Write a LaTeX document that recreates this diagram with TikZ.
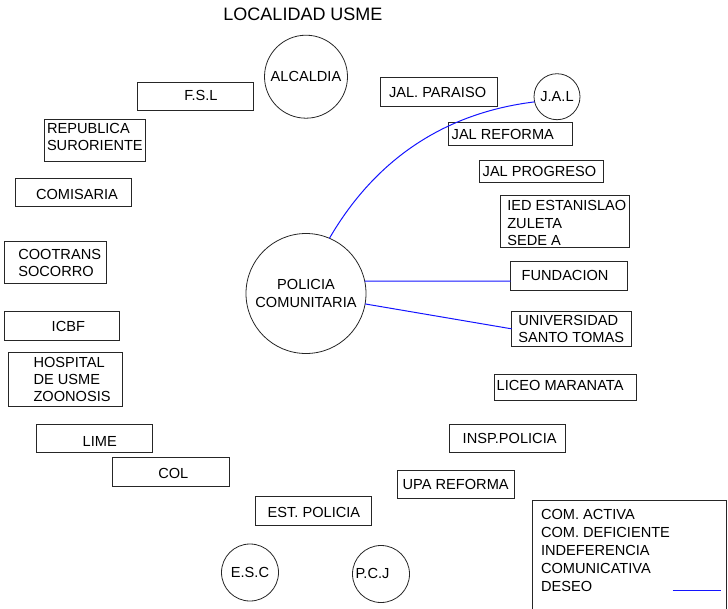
\documentclass[tikz,border=0pt]{standalone}
\usepackage{fontspec}
\setmainfont{Liberation Sans}
\newcommand\entfont{\fontsize{14.6}{17.2}\selectfont}
\newcommand\keyfont{\fontsize{14.6}{17.8}\selectfont}
% \entbox{name}{x1}{y1}{x2}{y2}: empty framed box spanning the given corners
\newcommand\entbox[5]{%
  \node[frame, minimum width={#4-#2}, minimum height={#5-#3}] (#1)
    at ({(#2+#4)/2},{(#3+#5)/2}) {};}
\definecolor{linkblue}{RGB}{20,20,255}
\begin{document}
\begin{tikzpicture}[x=1pt,y=-1pt,
  frame/.style={draw=black!85, line width=0.8pt, rectangle, inner sep=0pt, outer sep=0pt},
  ring/.style={draw=black!85, line width=0.8pt, circle, inner sep=0pt, outer sep=0pt,
    align=center, font=\entfont},
  txt/.style={inner sep=0pt, outer sep=0pt, anchor=north west, align=left, font=\entfont},
  link/.style={draw=linkblue, line width=1pt}]
\useasboundingbox (0,0) rectangle (728,608);

% heading
\node[font=\fontsize{18}{20}\selectfont, anchor=base, inner sep=0pt] (title) at (303,20.7) {LOCALIDAD USME};

% circular actors
\node[ring, minimum size=83] (alc) at (306,76.7) {ALCALDIA};
\node[ring, minimum size=46] (jal) at (557,96.7) {J.A.L};
\node[ring, minimum size=120] (pc) at (306,293.5) {POLICIA\\COMUNITARIA};
\node[ring, minimum size=57] (esc) at (250,572.5) {E.S.C};
\node[ring, minimum size=57] (pcj) at (381,574) {};
\node[txt, anchor=center] (pcj-t) at (372.5,573.5) {P.C.J};

% left-hand institutions
\entbox{fsl}{137}{82}{253}{110}
\node[txt] (fsl-t) at (184.3,90.7) {F.S.L};
\entbox{rep}{44.3}{119.3}{145.7}{161.7}
\node[txt] (rep-t) at (47,123.3) {REPUBLICA\\SURORIENTE};
\entbox{com}{15}{178.3}{131.7}{206.7}
\node[txt] (com-t) at (36,189.3) {COMISARIA};
\entbox{coo}{4.7}{241.7}{106.7}{283.3}
\node[txt] (coo-t) at (18.3,249.3) {COOTRANS\\SOCORRO};
\entbox{icbf}{4}{311.7}{119}{340.7}
\node[txt] (icbf-t) at (51.7,321.7) {ICBF};
\entbox{hosp}{8.3}{352.7}{122.7}{406}
\node[txt] (hosp-t) at (33.5,357.3) {HOSPITAL\\DE USME\\ZOONOSIS};
\entbox{lime}{36}{424}{152.7}{452.3}
\node[txt] (lime-t) at (82.7,436.4) {LIME};
\entbox{col}{112.7}{457.7}{229.3}{486.7}
\node[txt] (col-t) at (158.3,468.7) {COL};
\entbox{est}{255.7}{496.7}{371.7}{525.7}
\node[txt] (est-t) at (267.7,507.4) {EST. POLICIA};

% right-hand institutions
\entbox{par}{380.7}{77.3}{497.3}{106.7}
\node[txt] (par-t) at (389,87.3) {JAL. PARAISO};
\entbox{jref}{448.3}{122.7}{572.3}{145}
\node[txt] (jref-t) at (451.7,129.3) {JAL REFORMA};
\entbox{jprog}{479.3}{160.7}{603.3}{182.7}
\node[txt] (jprog-t) at (482.7,166.7) {JAL PROGRESO};
\entbox{ied}{500}{195.7}{629.3}{247.3}
\node[txt] (ied-t) at (507.3,200.7) {IED ESTANISLAO\\ZULETA\\SEDE A};
\entbox{fund}{510.7}{261.7}{627.3}{290.7}
\node[txt] (fund-t) at (521.7,270.7) {FUNDACION};
\entbox{univ}{511.7}{311.7}{631.7}{346}
\node[txt] (univ-t) at (518.3,315.4) {UNIVERSIDAD\\SANTO TOMAS};
\entbox{liceo}{494.3}{374}{636}{400.7}
\node[txt] (liceo-t) at (496.7,380.7) {LICEO MARANATA};
\entbox{insp}{449.3}{424.3}{565.7}{452.3}
\node[txt] (insp-t) at (462.7,433) {INSP.POLICIA};
\entbox{upa}{397.3}{470}{514}{498.3}
\node[txt] (upa-t) at (402.7,479.7) {UPA REFORMA};

% key, running off the lower edge
\entbox{key}{532.7}{500}{726}{625}
\node[txt, font=\keyfont] (key-t) at (541,509.7)
  {COM. ACTIVA\\COM. DEFICIENTE\\INDEFERENCIA\\COMUNICATIVA\\DESEO};
\coordinate (swA) at (672.7,590);
\coordinate (swB) at (720.7,590);
\draw[link] (swA) -- (swB);

% communication links from the community police
\coordinate (pcE) at (pc.12.3);
\coordinate (fundIn) at (fund.west |- pcE);
\draw[link] (pc.67.7) .. controls +(46,-79) and +(-90,11) .. (jal.193)
  (pcE) -- (fundIn)
  (pc.-10.2) -- (univ.west);
\end{tikzpicture}
\end{document}
